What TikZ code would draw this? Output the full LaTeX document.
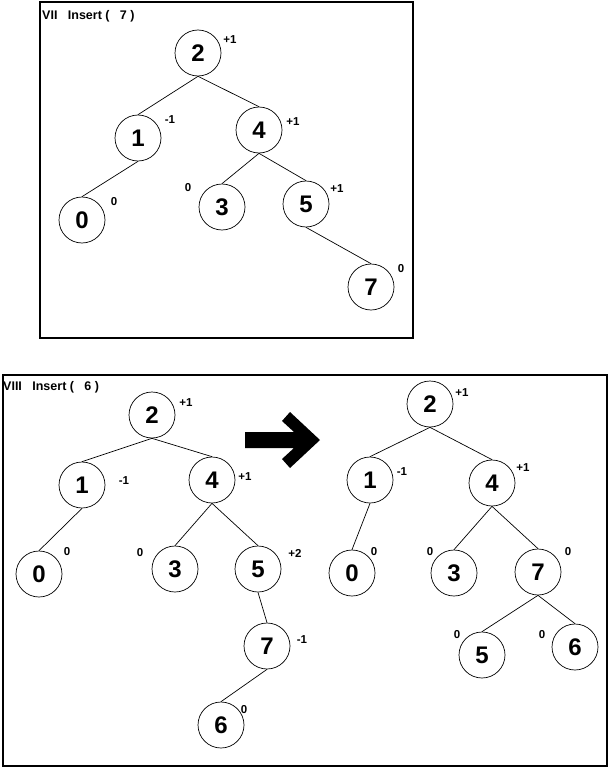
\documentclass[tikz,border=0pt]{standalone}
\usepackage{fontspec}
\setmainfont{Liberation Sans}
\begin{document}
\begin{tikzpicture}[x=1pt,y=-1pt,
  tn/.style={draw,circle,minimum size=46pt,inner sep=0pt,line width=0.7pt,font=\fontsize{24}{24}\selectfont\bfseries},
  bal/.style={inner sep=0pt,font=\fontsize{11.5}{11.5}\selectfont\bfseries},
  ttl/.style={inner sep=0pt,anchor=west,font=\fontsize{12.5}{12.5}\selectfont\bfseries},
  panel/.style={draw,line width=1.2pt},
  edge/.style={line width=0.7pt}]
\useasboundingbox (0,0) rectangle (609,768);
% ---------- top panel ----------
\draw[panel] (40,2) rectangle (413,338);
\node[ttl] (t1) at (42,16) {VII\ \ \ Insert (\ \ \ 7 )};
\node[tn] (a2) at (198,53) {2};
\node[tn] (a1) at (138,138) {1};
\node[tn] (a4) at (259,130) {4};
\node[tn] (a0) at (82,220) {0};
\node[tn] (a3) at (222,207) {3};
\node[tn] (a5) at (306,204) {5};
\node[tn] (a7) at (371,287) {7};
\node[bal] (la2) at (230,40) {+1};
\node[bal] (la1) at (170,120) {-1};
\node[bal] (la4) at (293,122) {+1};
\node[bal] (la0) at (114,202) {0};
\node[bal] (la3) at (188,188) {0};
\node[bal] (la5) at (337,189) {+1};
\node[bal] (la7) at (401,269) {0};
\draw[edge] (a2.south) -- (a1.north);
\draw[edge] (a2.south) -- (a4.north);
\draw[edge] (a1.south) -- (a0.north);
\draw[edge] (a4.south) -- (a3.north);
\draw[edge] (a4.south) -- (a5.north);
\draw[edge] (a5.south) -- (a7.north);
% ---------- bottom panel ----------
\draw[panel] (3,375) rectangle (607,766);
\node[ttl] (t2) at (3,387) {VIII\ \ \ Insert (\ \ \ 6 )};
% left tree
\node[tn] (b2) at (152,415) {2};
\node[tn] (b1) at (82,485) {1};
\node[tn] (b4) at (212,480) {4};
\node[tn] (b0) at (39,574) {0};
\node[tn] (b3) at (175,569) {3};
\node[tn] (b5) at (258,569) {5};
\node[tn] (b7) at (267,646) {7};
\node[tn] (b6) at (221,725) {6};
\node[bal] (lb2) at (186,403) {+1};
\node[bal] (lb1) at (124,481) {-1};
\node[bal] (lb4) at (245,477) {+1};
\node[bal] (lb0) at (67,552) {0};
\node[bal] (lb3) at (140,553) {0};
\node[bal] (lb5) at (295,553) {+2};
\node[bal] (lb7) at (302,640) {-1};
\node[bal] (lb6) at (244,710) {0};
\draw[edge] (b2.south) -- (b1.north);
\draw[edge] (b2.south) -- (b4.north);
\draw[edge] (b1.south) -- (b0.north);
\draw[edge] (b4.south) -- (b3.north);
\draw[edge] (b4.south) -- (b5.north);
\draw[edge] (b5.south) -- (b7.north);
\draw[edge] (b7.south) -- (b6.north);
% arrow
\fill (245,432) -- (294,432) -- (282,421) -- (290,412) -- (320,440) -- (290,468) -- (282,459) -- (294,448) -- (245,448) -- cycle;
% right tree
\node[tn] (c2) at (430,404) {2};
\node[tn] (c1) at (370,480) {1};
\node[tn] (c4) at (492,483) {4};
\node[tn] (c0) at (352,573) {0};
\node[tn] (c3) at (454,573) {3};
\node[tn] (c7) at (538,572) {7};
\node[tn] (c5) at (482,655) {5};
\node[tn] (c6) at (575,647) {6};
\node[bal] (lc2) at (462,393) {+1};
\node[bal] (lc1) at (402,472) {-1};
\node[bal] (lc4) at (523,468) {+1};
\node[bal] (lc0) at (374,552) {0};
\node[bal] (lc3) at (430,552) {0};
\node[bal] (lc7) at (568,552) {0};
\node[bal] (lc5) at (457,635) {0};
\node[bal] (lc6) at (542,635) {0};
\draw[edge] (c2.south) -- (c1.north);
\draw[edge] (c2.south) -- (c4.north);
\draw[edge] (c1.south) -- (c0.north);
\draw[edge] (c4.south) -- (c3.north);
\draw[edge] (c4.south) -- (c7.north);
\draw[edge] (c7.south) -- (c5.north);
\draw[edge] (c7.south) -- (c6.north);
\end{tikzpicture}
\end{document}
